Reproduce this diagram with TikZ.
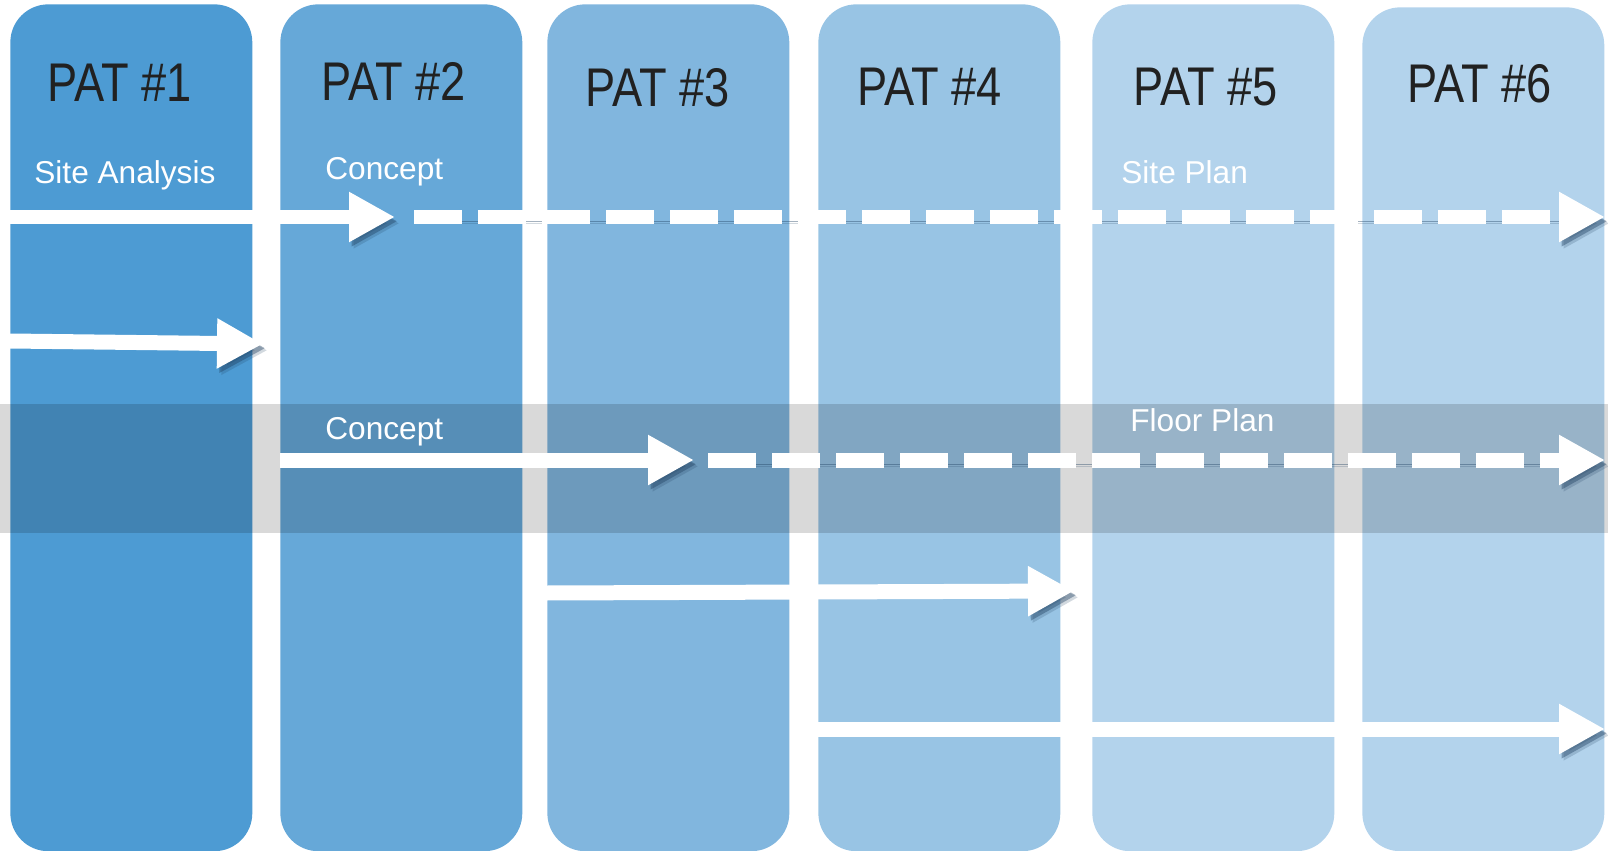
\documentclass[tikz,border=0pt]{standalone}
\usepackage{fontspec}
\setmainfont{Liberation Sans}
\newfontfamily\patfont[FakeStretch=0.83]{Liberation Sans}
\usetikzlibrary{arrows.meta}
\definecolor{pat1}{HTML}{4D9BD3}
\definecolor{pat2}{HTML}{66A8D8}
\definecolor{pat3}{HTML}{81B6DE}
\definecolor{pat4}{HTML}{98C4E4}
\definecolor{pat5}{HTML}{B3D3EC}
\definecolor{pat6}{HTML}{B3D3EC}
\definecolor{shade}{HTML}{1F3F5F}

\begin{document}
\begin{tikzpicture}[x=0.02cm, y=-0.02cm]
    \tikzstyle{column}=[rounded corners=0.76cm, minimum width=4.84cm, minimum height=16.94cm, inner sep=0pt, anchor=north west]
    \tikzstyle{pat}=[font=\patfont\fontsize{31}{36}\selectfont, text=black!87, anchor=base, inner sep=0pt]
    \tikzstyle{task}=[font=\fontsize{18}{22}\selectfont, text=white, anchor=base west, inner sep=0pt]
    \tikzstyle{flow}=[line width=0.3cm, white, -{Triangle[length=0.92cm, width=0.94cm]},
        preaction={draw=shade, opacity=0.2, transform canvas={shift={(2.6pt,-3.6pt)}}},
        preaction={draw=shade, opacity=0.4, transform canvas={shift={(1.5pt,-2.4pt)}}}]
    \tikzstyle{later}=[flow, dash pattern=on 0.96cm off 0.32cm]

    \useasboundingbox (0,0) rectangle (1608,851);

    % columns
    \node[column, fill=pat1] (c1) at (10,4) {};
    \node[column, fill=pat2] (c2) at (280,4) {};
    \node[column, fill=pat3] (c3) at (547,4) {};
    \node[column, fill=pat4] (c4) at (818,4) {};
    \node[column, fill=pat5] (c5) at (1092,4) {};
    \node[column, fill=pat6, minimum height=16.88cm] (c6) at (1362,7) {};

    % band
    \fill[black, opacity=0.15] (0,404) rectangle (1608,533);

    \node[pat] (p1) at (120,102) {PAT \#1};
    \node[pat] (p2) at (394,101) {PAT \#2};
    \node[pat] (p3) at (658,107) {PAT \#3};
    \node[pat] (p4) at (930,106) {PAT \#4};
    \node[pat] (p5) at (1206,106) {PAT \#5};
    \node[pat] (p6) at (1480,103) {PAT \#6};

    \node[task] (site) at (34,184) {Site Analysis};
    \node[task] (concept) at (325,180) {Concept};
    \node[task] (siteplan) at (1121,184) {Site Plan};
    \node[task] (concept2) at (325,439) {Concept};
    \node[task] (floor) at (1130,431) {Floor Plan};

    \coordinate (s1) at (10,217);
    \coordinate (m1) at (395,217);
    \coordinate (d1) at (414,217);
    \coordinate (e1) at (1605,217);
    \coordinate (s2) at (10,341);
    \coordinate (e2) at (263,344);
    \coordinate (s3) at (280,460);
    \coordinate (m3) at (694,460);
    \coordinate (d3) at (708,460);
    \coordinate (e3) at (1605,460);
    \coordinate (s4) at (546,593);
    \coordinate (e4) at (1074,591);
    \coordinate (s5) at (818,729);
    \coordinate (e5) at (1605,729);

    \draw[flow] (s1) -- (m1);
    \draw[later] (d1) -- (e1);
    \draw[flow] (s2) -- (e2);
    \draw[flow] (s3) -- (m3);
    \draw[later] (d3) -- (e3);
    \draw[flow] (s4) -- (e4);
    \draw[flow] (s5) -- (e5);
\end{tikzpicture}
\end{document}
